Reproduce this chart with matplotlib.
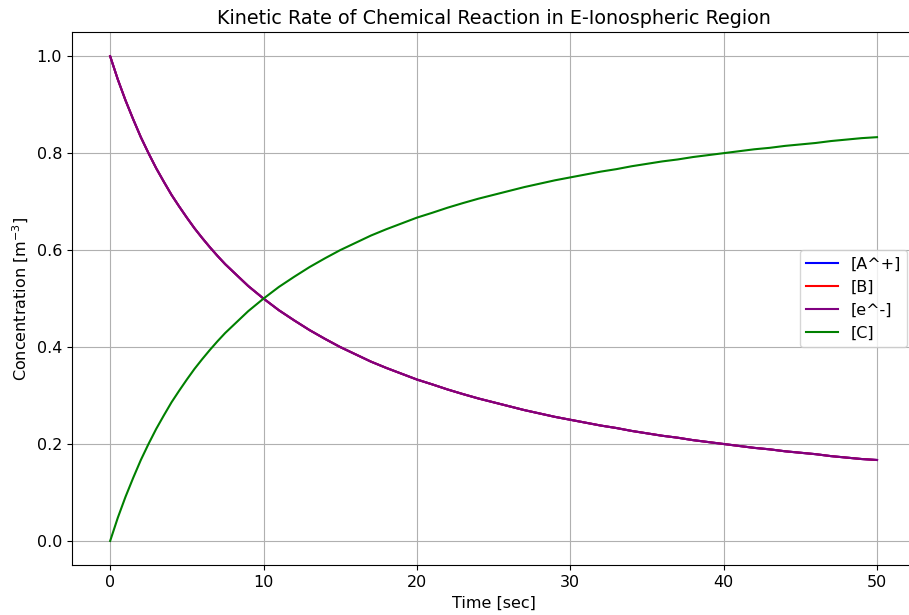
import matplotlib
matplotlib.use("Agg")
import matplotlib.pyplot as plt

# time axis [sec]
time = [0, 0.5, 1, 1.5, 2, 2.5, 3, 3.5, 4, 4.5, 5, 5.5, 6, 6.5, 7, 7.5, 8, 8.5, 9, 9.5,
        10, 11, 12, 13, 14, 15, 16, 17, 18, 19,
        20, 21, 22, 23, 24, 25, 26, 27, 28, 29,
        30, 31, 32, 33, 34, 35, 36, 37, 38, 39,
        40, 41, 42, 43, 44, 45, 46, 47, 48, 49, 50]

# concentrations
conc_a = [1.000, 0.952, 0.909, 0.870, 0.833, 0.800, 0.769, 0.741, 0.714, 0.690,
          0.667, 0.645, 0.625, 0.606, 0.588, 0.571, 0.556, 0.541, 0.526, 0.513,
          0.500, 0.476, 0.455, 0.435, 0.417, 0.400, 0.385, 0.370, 0.357, 0.345,
          0.333, 0.323, 0.3125, 0.303, 0.294, 0.286, 0.278, 0.270, 0.263, 0.256,
          0.250, 0.244, 0.238, 0.233, 0.227, 0.222, 0.217, 0.213, 0.208, 0.204,
          0.200, 0.196, 0.192, 0.189, 0.185, 0.182, 0.179, 0.175, 0.172, 0.169,
          0.167]
conc_b = list(conc_a)
conc_e = list(conc_a)
conc_c = [0.000, 0.048, 0.091, 0.130, 0.167, 0.200, 0.231, 0.259, 0.286, 0.310,
          0.333, 0.355, 0.375, 0.394, 0.412, 0.429, 0.444, 0.459, 0.474, 0.487,
          0.500, 0.524, 0.545, 0.565, 0.583, 0.600, 0.615, 0.630, 0.643, 0.655,
          0.667, 0.677, 0.6875, 0.697, 0.706, 0.714, 0.722, 0.730, 0.737, 0.744,
          0.750, 0.756, 0.762, 0.767, 0.773, 0.778, 0.783, 0.787, 0.792, 0.796,
          0.800, 0.804, 0.808, 0.811, 0.815, 0.818, 0.821, 0.825, 0.828, 0.831,
          0.833]

plt.rcParams['font.size'] = 11.5

fig = plt.figure(figsize=(9.09, 6.15), dpi=100)
ax = fig.add_axes([0.079, 0.081, 0.928, 0.867])

ax.plot(time, conc_a, color='blue', label='[A^+]')
ax.plot(time, conc_b, color='red', label='[B]')
ax.plot(time, conc_e, color='purple', label='[e^-]')
ax.plot(time, conc_c, color='green', label='[C]')

ax.set_title('Kinetic Rate of Chemical Reaction in E-Ionospheric Region', fontsize=13.8)
ax.set_xlabel('Time [sec]')
ax.set_ylabel('Concentration [m$^{-3}$]')
ax.grid(True)
ax.legend(loc='center right')

fig.savefig('out.png', dpi=100)
